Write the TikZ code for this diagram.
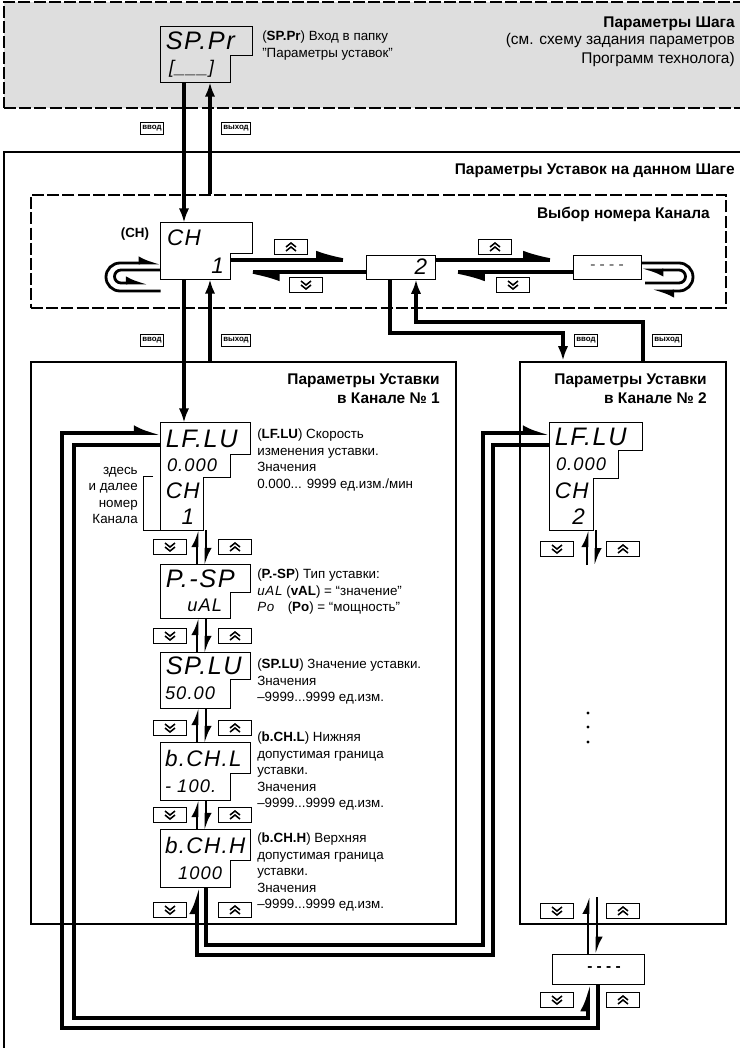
\documentclass[tikz,border=0pt]{standalone}
\usepackage{fontspec}
\setmainfont{Liberation Sans}
\newfontfamily\segfont[LetterSpace=6]{Liberation Sans}
\usetikzlibrary{positioning,arrows.meta,fit}
\tikzset{
  stepzone/.style={draw, fill=black!13, line width=1pt, dash pattern=on 0.3cm off 0.08cm, inner sep=0},
  selzone/.style={draw, line width=1pt, dash pattern=on 0.3cm off 0.08cm, inner sep=0},
  zonebox/.style={draw, line width=0.9pt, inner sep=0},
  chanbox/.style={draw, line width=2pt, inner sep=0},
  row/.style={inner sep=0},
  disp/.style={draw, line width=0.6pt},
  plainbox/.style={draw, line width=0.6pt, inner sep=0},
  segbig/.style={font=\segfont\itshape\fontsize{18}{18}\selectfont, inner sep=0},
  segwide/.style={font=\segfont\itshape\fontsize{16}{16}\selectfont, inner sep=0},
  segmid/.style={font=\segfont\itshape\fontsize{16}{16}\selectfont, inner sep=0},
  segsmall/.style={font=\segfont\itshape\fontsize{13}{13}\selectfont, inner sep=0},
  zonetitle/.style={font=\bfseries\fontsize{11}{13.5}\selectfont, inner sep=0, align=right},
  hint/.style={font=\fontsize{9.5}{11.7}\selectfont, inner sep=0, align=left, anchor=north west},
  keytag/.style={draw, line width=0.5pt, font=\bfseries\fontsize{5.6}{6}\selectfont, inner sep=1.4pt, minimum height=0.3cm},
  keybox/.style={draw, line width=0.6pt, minimum width=0.82cm, minimum height=0.38cm, inner sep=0},
  upkey/.style={keybox, path picture={
      \draw[line width=1.1pt] ([shift={(-5,0)}]path picture bounding box.center) -- ++(5,-4) -- ++(5,4);
      \draw[line width=1.1pt] ([shift={(-5,4)}]path picture bounding box.center) -- ++(5,-4) -- ++(5,4);}},
  downkey/.style={keybox, path picture={
      \draw[line width=1.1pt] ([shift={(-5,-4)}]path picture bounding box.center) -- ++(5,4) -- ++(5,-4);
      \draw[line width=1.1pt] ([shift={(-5,0)}]path picture bounding box.center) -- ++(5,4) -- ++(5,-4);}},
  flow/.style={line width=2.3pt, -{Latex[length=0.36cm, width=0.26cm]}},
  bigharp/.style={line width=2.6pt, -{Latex[harpoon, length=0.95cm, width=0.46cm]}},
  linkharp/.style={line width=2.6pt, -{Latex[harpoon, length=0.5cm, width=0.4cm]}},
  loopharp/.style={line width=2pt, -{Latex[harpoon, length=0.42cm, width=0.34cm]}},
  stepharp/.style={line width=2pt, -{Latex[harpoon, length=0.32cm, width=0.3cm]}}
}

\begin{document}
\begin{tikzpicture}[x=0.025cm, y=-0.025cm]
  \useasboundingbox (0,0) rectangle (739,1048);
  % zones
  \node[stepzone, fit={(4,2) (770,108)}] (stepbox) {};
  \node[zonebox, fit={(4,152) (770,1080)}] (setzone) {};
  \node[selzone, fit={(31,195) (726,308)}] (selbox) {};
  \node[chanbox, fit={(31,362) (456,924)}] (ch1box) {};
  \node[chanbox, fit={(520,362) (726,924)}] (ch2box) {};
  \node[zonetitle, anchor=base east] (steptitle) at (735,27) {Параметры Шага};
  \node[font=\fontsize{11}{13.5}\selectfont, align=right, anchor=north east, inner sep=0] (stepnote) at (735,33) {(см. схему задания параметров\\Программ технолога)};
  \node[zonetitle, anchor=base east] (settitle) at (735,174) {Параметры Уставок на данном Шаге};
  \node[zonetitle, anchor=base east] (seltitle) at (710,218) {Выбор номера Канала};
  \node[zonetitle, anchor=north east] (ch1title) at (440,374) {Параметры Уставки\\в Канале № 1};
  \node[zonetitle, anchor=north east] (ch2title) at (707,374) {Параметры Уставки\\в Канале № 2};

  % SP.Pr
  \node[row, fit={(161,27) (252,55)}] (sppra) {};
  \node[row, fit={(161,55) (230,82)}] (spprb) {};
  \draw[disp] (sppra.north west) -| (sppra.south east) -| (spprb.south east) -| (sppra.north west) -- cycle;
  \node[segbig, right=0.12cm of sppra.west] (spprt) {SP.Pr};
  \node[segsmall, right=0.2cm of spprb.west] (spprv) {[\_\_\_]};
  \node[hint] (spprnote) at (262,31) {(\textbf{SP.Pr}) Вход в папку\\"Параметры уставок"};
  \node[keytag] (tagin0) at (152,128) {ввод};
  \node[keytag] (tagout0) at (236,128) {выход};

  % channel selection
  \node[row, fit={(161,223) (252,253)}] (chup) {};
  \node[row, fit={(161,253) (230,279)}] (chlo) {};
  \draw[disp] (chup.north west) -| (chup.south east) -| (chlo.south east) -| (chup.north west) -- cycle;
  \node[segmid, right=0.15cm of chup.west] (cht) {CH};
  \node[segmid, left=0.15cm of chlo.east] (chn) {1};
  \node[font=\bfseries\fontsize{9.5}{11}\selectfont] (chname) at (135,234) {(CH)};
  \node[plainbox, fit={(366,255) (435,279)}] (ch2sel) {};
  \node[segmid, left=0.2cm of ch2sel.east] (ch2seln) {2};
  \node[plainbox, fit={(573,255) (641,279)}] (lastsel) {};
  \node[font=\bfseries\fontsize{11}{11}\selectfont, text=black!50] (lastseld) at (lastsel.center) {- - - -};
  \node[upkey] (sel1up) at (291,247) {};
  \node[downkey] (sel1dn) at (306,285) {};
  \node[upkey] (sel2up) at (495,247) {};
  \node[downkey] (sel2dn) at (513,285) {};
  \draw[bigharp] (chlo.east |- 0,260) -- (ch2sel.west |- 0,260);
  \draw[bigharp] (ch2sel.west |- 0,272) -- (chlo.east |- 0,272);
  \draw[bigharp] (ch2sel.east |- 0,260) -- (lastsel.west |- 0,260);
  \draw[bigharp] (lastsel.west |- 0,272) -- (ch2sel.east |- 0,272);
  \draw[loopharp] (chlo.west |- 0,291) -- (120,291) arc[start angle=90, end angle=270, radius=14] -- (chlo.west |- 0,263);
  \draw[loopharp] (chlo.west |- 0,270) -- (121,270) arc[start angle=270, end angle=90, radius=6.5] -- (148,283);
  \draw[loopharp] (lastsel.east |- 0,263) -- (679,263) arc[start angle=270, end angle=450, radius=14] -- (652,291);
  \draw[loopharp] (645,283) -- (679,283) arc[start angle=90, end angle=-90, radius=6.5] -- (lastsel.east |- 0,270);

  % enter / exit
  \draw[flow] (184,0 |- spprb.south) -- (184,0 |- chup.north);
  \draw[flow] (210,0 |- selbox.north) -- (210,0 |- spprb.south);
  \draw[flow] (210,0 |- ch1box.north) -- (210,0 |- chlo.south);
  \draw[flow] (390,0 |- ch2sel.south) -- (390,333) -| (563,0 |- ch2box.north);
  \draw[flow] (643,0 |- ch2box.north) |- (416,322) -- (416,0 |- ch2sel.south);
  \node[keytag] (tagin1) at (152,340) {ввод};
  \node[keytag] (tagout1) at (236,340) {выход};
  \node[keytag] (tagin2) at (586,340) {ввод};
  \node[keytag] (tagout2) at (667,340) {выход};

  % channel 1
  \node[row, fit={(161,423) (250,454)}] (lf1a) {};
  \node[row, fit={(161,454) (230,477)}] (lf1b) {};
  \node[row, fit={(161,477) (203,504)}] (lf1c) {};
  \node[row, fit={(161,504) (203,530)}] (lf1d) {};
  \draw[disp] (lf1a.north west) -| (lf1a.south east) -| (lf1b.south east) -| (lf1d.south east) -| (lf1a.north west) -- cycle;
  \draw[flow] (184,0 |- chlo.south) -- (184,0 |- lf1a.north);
  \node[segbig, right=0.12cm of lf1a.west] (lf1t) {LF.LU};
  \node[segsmall, right=0.15cm of lf1b.west] (lf1v) {0.000};
  \node[segmid, right=0.12cm of lf1c.west] (lf1ch) {CH};
  \node[segmid, left=0.22cm of lf1d.east] (lf1n) {1};
  \node[hint, align=right, anchor=north east] (chhint) at (138,467) {здесь\\и далее\\номер\\Канала};
  \draw[line width=0.6pt] (153,0 |- lf1c.north) -| (143,0 |- lf1d.south) -- (lf1d.south west);
  \node[hint] (lf1note) at (257,429) {(\textbf{LF.LU}) Скорость\\изменения уставки.\\Значения\\0.000... 9999 ед.изм./мин};

  \node[row, fit={(161,565) (250,592)}] (psp1a) {};
  \node[row, fit={(161,592) (230,618)}] (psp1b) {};
  \draw[disp] (psp1a.north west) -| (psp1a.south east) -| (psp1b.south east) -| (psp1a.north west) -- cycle;
  \node[segbig, right=0.12cm of psp1a.west] (psp1t) {P.-SP};
  \node[segsmall, left=0.2cm of psp1b.east] (psp1v) {uAL};
  \node[hint] (psp1note) at (257,569) {(\textbf{P.-SP}) Тип уставки:\\{\segfont\itshape uAL} (\textbf{vAL}) = “значение”\\{\segfont\itshape Po}\quad(\textbf{Po}) = “мощность”};

  \node[row, fit={(161,653) (250,679)}] (spl1a) {};
  \node[row, fit={(161,679) (230,708)}] (spl1b) {};
  \draw[disp] (spl1a.north west) -| (spl1a.south east) -| (spl1b.south east) -| (spl1a.north west) -- cycle;
  \node[segbig, right=0.12cm of spl1a.west] (spl1t) {SP.LU};
  \node[segsmall, right=0.1cm of spl1b.west] (spl1v) {50.00};
  \node[hint] (spl1note) at (257,659) {(\textbf{SP.LU}) Значение уставки.\\Значения\\–9999...9999 ед.изм.};

  \node[row, fit={(161,743) (250,773)}] (bl1a) {};
  \node[row, fit={(161,773) (230,800)}] (bl1b) {};
  \draw[disp] (bl1a.north west) -| (bl1a.south east) -| (bl1b.south east) -| (bl1a.north west) -- cycle;
  \node[segwide, right=0.1cm of bl1a.west] (bl1t) {b.CH.L};
  \node[segsmall, right=0.1cm of bl1b.west] (bl1v) {- 100.};
  \node[hint] (bl1note) at (257,732) {(\textbf{b.CH.L}) Нижняя\\допустимая граница\\уставки.\\Значения\\–9999...9999 ед.изм.};

  \node[row, fit={(161,830) (250,860)}] (bh1a) {};
  \node[row, fit={(161,860) (230,887)}] (bh1b) {};
  \draw[disp] (bh1a.north west) -| (bh1a.south east) -| (bh1b.south east) -| (bh1a.north west) -- cycle;
  \node[segwide, right=0.1cm of bh1a.west] (bh1t) {b.CH.H};
  \node[segsmall, left=0.2cm of bh1b.east] (bh1v) {1000};
  \node[hint] (bh1note) at (257,833) {(\textbf{b.CH.H}) Верхняя\\допустимая граница\\уставки.\\Значения\\–9999...9999 ед.изм.};

  \draw[stepharp] (197,0 |- psp1a.north) -- (197,0 |- lf1d.south);
  \draw[stepharp] (206,0 |- lf1d.south) -- (206,0 |- psp1a.north);
  \draw[stepharp] (197,0 |- spl1a.north) -- (197,0 |- psp1b.south);
  \draw[stepharp] (206,0 |- psp1b.south) -- (206,0 |- spl1a.north);
  \draw[stepharp] (197,0 |- bl1a.north) -- (197,0 |- spl1b.south);
  \draw[stepharp] (206,0 |- spl1b.south) -- (206,0 |- bl1a.north);
  \draw[stepharp] (197,0 |- bh1a.north) -- (197,0 |- bl1b.south);
  \draw[stepharp] (206,0 |- bl1b.south) -- (206,0 |- bh1a.north);

  \node[downkey] (lf1dn) at (170,547) {};
  \node[upkey] (lf1up) at (235,547) {};
  \node[downkey] (psp1dn) at (170,636) {};
  \node[upkey] (psp1up) at (235,636) {};
  \node[downkey] (spl1dn) at (170,728) {};
  \node[upkey] (spl1up) at (235,728) {};
  \node[downkey] (bl1dn) at (170,815) {};
  \node[upkey] (bl1up) at (235,815) {};
  \node[downkey] (bh1dn) at (170,910) {};
  \node[upkey] (bh1up) at (235,910) {};

  % channel 2
  \node[row, fit={(550,423) (642,450)}] (lf2a) {};
  \node[row, fit={(550,450) (618,478)}] (lf2b) {};
  \node[row, fit={(550,478) (593,504)}] (lf2c) {};
  \node[row, fit={(550,504) (593,530)}] (lf2d) {};
  \draw[disp] (lf2a.north west) -| (lf2a.south east) -| (lf2b.south east) -| (lf2d.south east) -| (lf2a.north west) -- cycle;
  \node[segbig, right=0.12cm of lf2a.west] (lf2t) {LF.LU};
  \node[segsmall, right=0.15cm of lf2b.west] (lf2v) {0.000};
  \node[segmid, right=0.12cm of lf2c.west] (lf2ch) {CH};
  \node[segmid, left=0.2cm of lf2d.east] (lf2n) {2};
  \coordinate (ch2more) at (591,565);
  \draw[stepharp] (587,0 |- ch2more) -- (587,0 |- lf2d.south);
  \draw[stepharp] (596,0 |- lf2d.south) -- (596,0 |- ch2more);
  \node[downkey] (lf2dn) at (557,549) {};
  \node[upkey] (lf2up) at (623,549) {};
  \fill (588,713) circle (1.6) (588,727) circle (1.6) (588,742) circle (1.6);

  \coordinate (ch2last) at (592,897);
  \node[plainbox, fit={(552,954) (644,984)}] (lastbox) {};
  \node[font=\bfseries\fontsize{11}{11}\selectfont] (lastboxd) at ([xshift=0.15cm]lastbox.center) {- - - -};
  \draw[stepharp] (588,0 |- lastbox.north) -- (588,0 |- ch2last);
  \draw[stepharp] (597,0 |- ch2last) -- (597,0 |- lastbox.north);
  \node[downkey] (ch2dn) at (557,911) {};
  \node[upkey] (ch2up) at (623,911) {};
  \node[downkey] (lastdn) at (557,1000) {};
  \node[upkey] (lastup) at (623,1000) {};

  % wrap-around links
  \draw[linkharp] (598,0 |- lastbox.south) |- (62,1028) |- (lf1a.west |- 0,433);
  \draw[linkharp] (lf1a.west |- 0,445) -| (74,1018) -| (588,0 |- lastbox.south);
  \draw[linkharp] (206,0 |- bh1b.south) |- (483,945) |- (lf2a.west |- 0,433);
  \draw[linkharp] (lf2a.west |- 0,445) -| (493,955) -| (197,0 |- bh1b.south);
\end{tikzpicture}
\end{document}
